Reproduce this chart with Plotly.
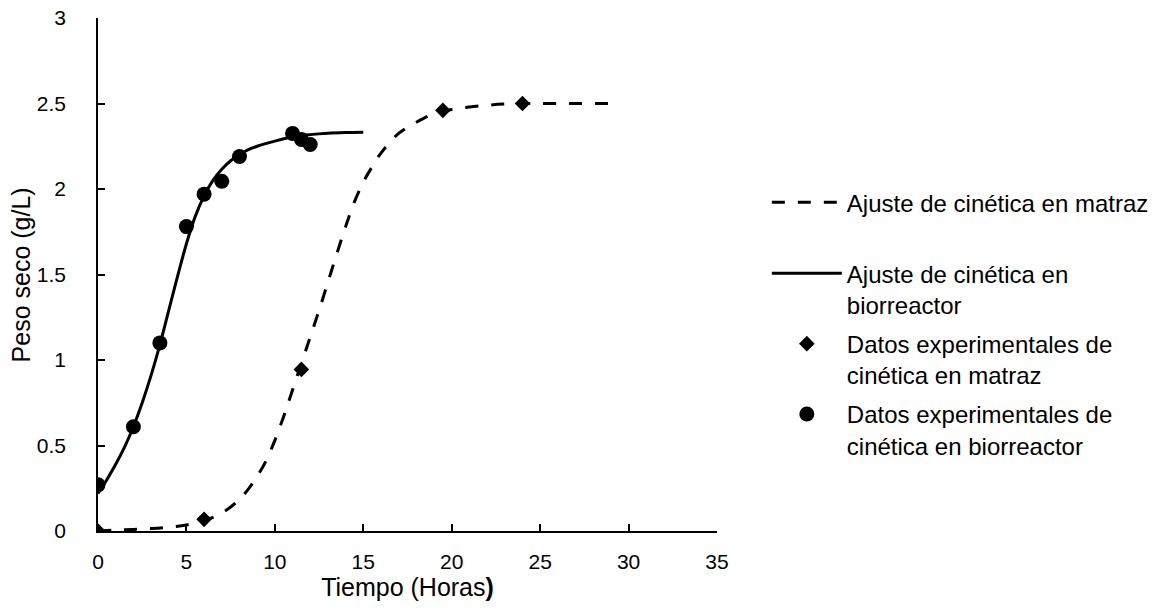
import plotly.graph_objects as go

# Experimental data
t_matraz = [0, 6, 11.5, 19.5, 24]
y_matraz = [0.0, 0.068, 0.945, 2.46, 2.50]

t_bio = [0, 2, 3.5, 5, 6, 7, 8, 11, 11.5, 12]
y_bio = [0.27, 0.61, 1.10, 1.78, 1.97, 2.045, 2.19, 2.325, 2.29, 2.26]

# Fitted curves
t_fit_matraz = [0, 1, 2, 3, 4, 5, 6, 6.5, 7, 7.5, 8, 8.5, 9, 9.5, 10, 10.5, 11, 11.5,
                12, 12.5, 13, 13.5, 14, 14.5, 15, 15.5, 16, 17, 18, 19, 20, 22, 24, 26, 29]
y_fit_matraz = [0.0, 0.005, 0.009, 0.014, 0.022, 0.035, 0.06, 0.08, 0.105, 0.14, 0.185,
                0.245, 0.32, 0.41, 0.53, 0.67, 0.825, 0.98, 1.135, 1.29, 1.455, 1.62,
                1.78, 1.925, 2.04, 2.13, 2.21, 2.325, 2.39, 2.44, 2.465, 2.49, 2.50,
                2.50, 2.50]

t_fit_bio = [0, 0.5, 1, 1.5, 2, 2.5, 3, 3.5, 4, 4.5, 5, 5.5, 6, 6.5, 7, 7.5, 8, 8.5,
             9, 10, 11, 12, 13, 14, 15]
y_fit_bio = [0.22, 0.30, 0.39, 0.49, 0.61, 0.75, 0.91, 1.09, 1.29, 1.49, 1.68, 1.84,
             1.96, 2.05, 2.115, 2.165, 2.20, 2.23, 2.25, 2.28, 2.305, 2.318, 2.326,
             2.33, 2.332]

x_ticks = [0, 5, 10, 15, 20, 25, 30, 35]
y_ticks = [0, 0.5, 1, 1.5, 2, 2.5, 3]
y_ticktext = ["0", "0.5", "1", "1.5", "2", "2.5", "3"]

FONT = "Liberation Sans, Arial, sans-serif"
LEG_FONT = dict(family=FONT, size=24, color="black")

fig = go.Figure()
fig.add_trace(go.Scatter(
    x=t_fit_matraz, y=y_fit_matraz, mode="lines", line_shape="spline",
    name="Ajuste de cinética en matraz",
    line=dict(color="black", width=3, dash="13px,13px"), legend="legend"))
fig.add_trace(go.Scatter(
    x=t_fit_bio, y=y_fit_bio, mode="lines", line_shape="spline",
    name="Ajuste de cinética en<br>biorreactor",
    line=dict(color="black", width=3), legend="legend2", legendgroup="b"))
fig.add_trace(go.Scatter(
    x=t_matraz, y=y_matraz, mode="markers",
    name="Datos experimentales de<br>cinética en matraz",
    marker=dict(symbol="diamond", size=12, color="black"), legend="legend2",
    legendgroup="c"))
fig.add_trace(go.Scatter(
    x=t_bio, y=y_bio, mode="markers",
    name="Datos experimentales de<br>cinética en biorreactor",
    marker=dict(symbol="circle", size=15, color="black"), legend="legend2",
    legendgroup="d"))

fig.update_layout(
    width=1161, height=615,
    margin=dict(l=98, r=444, t=18, b=84, autoexpand=False),
    paper_bgcolor="white", plot_bgcolor="white",
    font=dict(family=FONT, size=21, color="black"),
    showlegend=True,
    legend=dict(x=1.0805, xanchor="left", y=0.684, yanchor="top", font=LEG_FONT,
                itemwidth=70, bgcolor="rgba(0,0,0,0)", valign="top"),
    legend2=dict(x=1.0805, xanchor="left", y=0.5455, yanchor="top", font=LEG_FONT,
                 itemwidth=70, bgcolor="rgba(0,0,0,0)", valign="top",
                 traceorder="grouped", tracegroupgap=5),
    annotations=[dict(text="Peso seco (g/L)", textangle=-90, showarrow=False,
                      xref="paper", yref="paper", x=-0.1245, y=0.5,
                      xanchor="center", yanchor="middle",
                      font=dict(family=FONT, size=25, color="black"))],
)
fig.update_xaxes(
    range=[0, 35], tickvals=x_ticks, ticktext=[str(v) for v in x_ticks],
    automargin=False, ticklabeloverflow="allow",
    showgrid=False, zeroline=False, showline=True, linecolor="black", linewidth=1.5,
    ticks="inside", ticklen=7, tickcolor="black", tickwidth=1.5,
    ticklabelstandoff=11,
    tickfont=dict(size=21), title=dict(text="Tiempo (Horas<b>)</b>", font=dict(size=25), standoff=6))
fig.update_yaxes(
    range=[0, 3], tickvals=y_ticks, ticktext=y_ticktext,
    automargin=False, ticklabeloverflow="allow",
    showgrid=False, zeroline=False, showline=True, linecolor="black", linewidth=1.5,
    ticks="inside", ticklen=7, tickcolor="black", tickwidth=1.5,
    ticklabelstandoff=26,
    tickfont=dict(size=21))

fig.write_html("out.html", config={"displayModeBar": False},
               post_script="document.body.style.margin='0';document.body.style.overflow='hidden';")
